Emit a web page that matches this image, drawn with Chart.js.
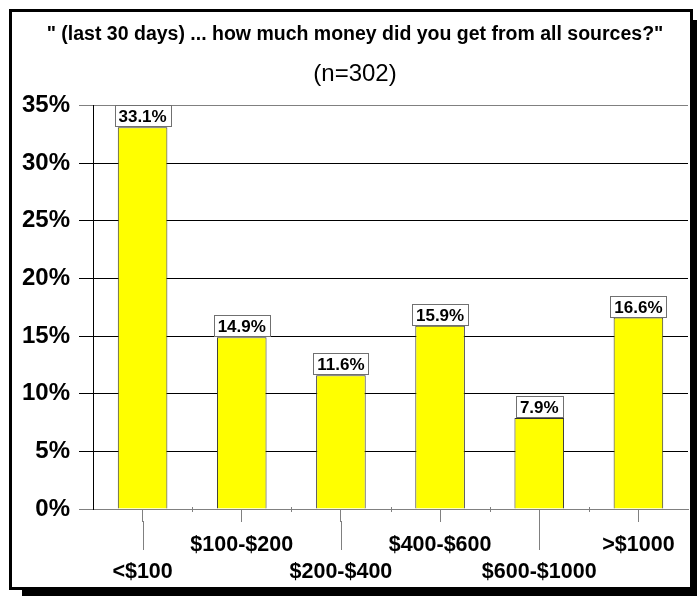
<!DOCTYPE html>
<html><head><meta charset="utf-8">
<script src="https://cdn.jsdelivr.net/npm/chart.js@4/dist/chart.umd.min.js"></script>
<style>
html,body{margin:0;padding:0;width:697px;height:596px;overflow:hidden;background:#fff}
#frame{position:absolute;left:9px;top:9px;width:684px;height:581px;box-sizing:border-box;border:3px solid #000;box-shadow:13px 11px 0 #000;background:#fff}
#wrap{position:absolute;left:0;top:0;width:697px;height:596px}
</style></head><body>
<div id="frame"></div>
<div id="wrap"><canvas id="c" width="697" height="596"></canvas></div>
<script>
const categories = ['<$100', '$100-$200', '$200-$400', '$400-$600', '$600-$1000', '>$1000'];
const percentages = [33.1, 14.9, 11.6, 15.9, 7.9, 16.6];
const yMin = 0, yMax = 35, yStep = 5;
const titleText = '" (last 30 days) ... how much money did you get from all sources?"';
const subtitleText = '(n=302)';

const FONT = "'Liberation Sans', Arial, sans-serif";
// staggered labels: even indices on the lower line
const staggered = categories.map((c, i) => i % 2 === 0 ? ['', c] : [c, '']);

const extras = {
  id: 'extras',
  afterDatasetsDraw(chart) {
    const ctx = chart.ctx;
    const xs = chart.scales.x;
    const ca = chart.chartArea;
    ctx.save();
    ctx.strokeStyle = '#808080';
    ctx.lineWidth = 1;
    const n = categories.length;
    for (let i = 0; i < n; i++) {
      const px = Math.round(xs.getPixelForTick(i)) + 0.5;
      if (i % 2 === 0) {
        ctx.beginPath();
        ctx.moveTo(px, ca.bottom + 12);
        ctx.lineTo(px, ca.bottom + 41);
        ctx.stroke();
      }
      if (i < n - 1) {
        const bx = Math.round((xs.getPixelForTick(i) + xs.getPixelForTick(i + 1)) / 2) + 0.5;
        ctx.beginPath();
        ctx.moveTo(bx, ca.bottom - 2);
        ctx.lineTo(bx, ca.bottom + 3);
        ctx.stroke();
      }
    }
    // value boxes
    const meta = chart.getDatasetMeta(0);
    ctx.font = 'bold 17px ' + FONT;
    ctx.textAlign = 'center';
    ctx.textBaseline = 'middle';
    meta.data.forEach((bar, i) => {
      const txt = percentages[i].toFixed(1) + '%';
      const w = Math.round(ctx.measureText(txt).width) + 8;
      const h = 21;
      const x0 = Math.round(bar.x - w / 2) + 0.5;
      const y0 = Math.round(bar.y - 1 - h) + 0.5;
      ctx.fillStyle = '#fff';
      ctx.fillRect(x0, y0, w, h);
      ctx.strokeStyle = '#707070';
      ctx.strokeRect(x0, y0, w, h);
      ctx.fillStyle = '#000';
      ctx.fillText(txt, bar.x, y0 + h / 2 + 1);
    });
    ctx.restore();
  }
};

new Chart(document.getElementById('c'), {
  type: 'bar',
  data: {
    labels: staggered,
    datasets: [{
      data: percentages,
      backgroundColor: '#FFFF00',
      borderColor: '#333333',
      borderWidth: 1,
      borderSkipped: 'bottom',
      barPercentage: 0.5,
      categoryPercentage: 1.0
    }]
  },
  options: {
    responsive: false,
    devicePixelRatio: 1,
    animation: false,
    layout: { padding: { left: 22, right: 9, top: 0, bottom: 0 } },
    plugins: {
      legend: { display: false },
      tooltip: { enabled: false },
      title: {
        display: true, text: titleText, color: '#000',
        font: { family: FONT, size: 19.5, weight: 'bold', lineHeight: 1.2 },
        padding: { top: 23, bottom: 0 }
      },
      subtitle: {
        display: true, text: subtitleText, color: '#000',
        font: { family: FONT, size: 24, weight: 'normal', lineHeight: 1.2 },
        padding: { top: 14, bottom: 16.2 }
      }
    },
    scales: {
      x: {
        grid: { display: true, drawOnChartArea: false, offset: false, tickLength: 13, color: '#808080' },
        border: { display: true, color: '#808080' },
        ticks: {
          color: '#000', autoSkip: false, maxRotation: 0, padding: 9,
          font: { family: FONT, size: 21.5, weight: 'bold', lineHeight: 1.28 }
        },
        afterFit: s => { s.height = 87; }
      },
      y: {
        min: yMin, max: yMax,
        grid: {
          color: c => (c.tick && (c.tick.value === yMax || c.tick.value === yMin)) ? '#808080' : '#000',
          tickLength: 14
        },
        border: { display: true, color: '#000' },
        ticks: {
          stepSize: yStep, color: '#000', padding: 9,
          font: { family: FONT, size: 24, weight: 'bold' },
          callback: v => v + '%'
        },
        afterFit: s => { s.width = 71; }
      }
    }
  },
  plugins: [extras]
});
</script>
</body></html>
